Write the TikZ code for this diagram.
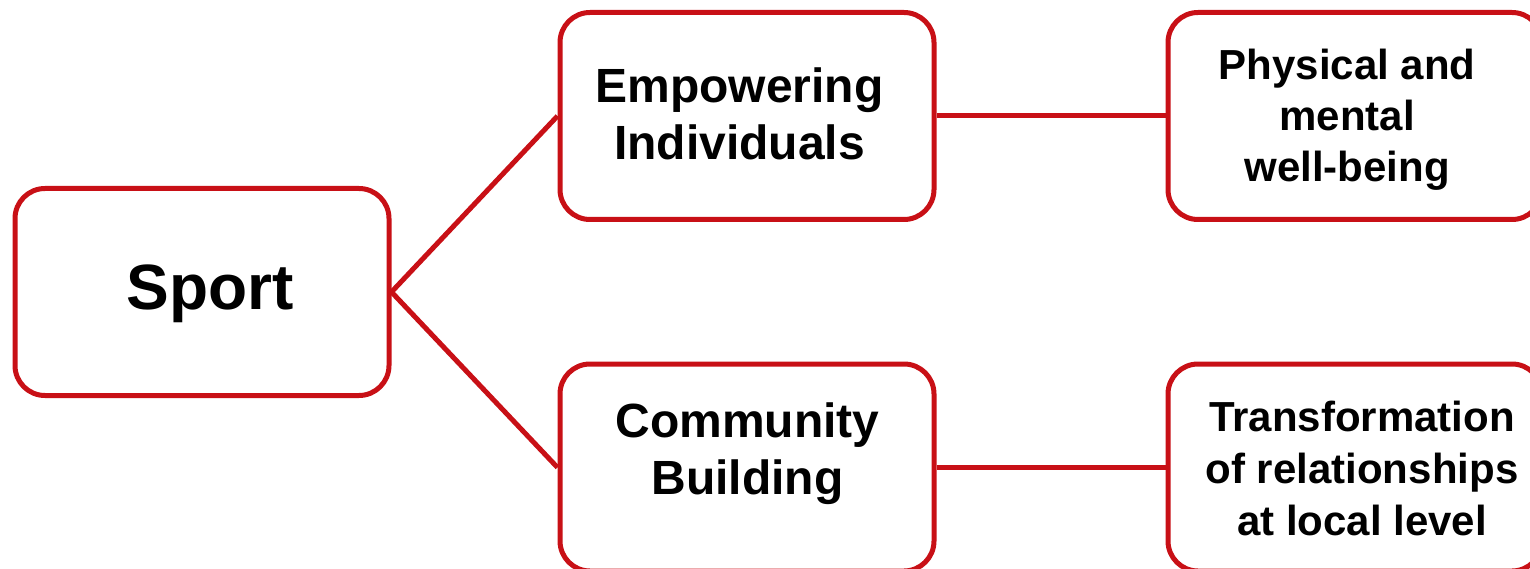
\documentclass[tikz,border=0pt]{standalone}
\usepackage{fontspec}
\setmainfont{Liberation Sans}
\definecolor{boxred}{RGB}{200,16,22}
\begin{document}
\begin{tikzpicture}[x=1pt,y=-1pt,
  box/.style={draw=boxred,line width=5pt,rounded corners=30pt,minimum width=374pt,minimum height=207pt,anchor=center,inner sep=0pt},
  link/.style={draw=boxred,line width=5pt},
  txt/.style={align=center,inner sep=0pt,font=\bfseries}]
\useasboundingbox (0,0) rectangle (1530,569);
\begin{scope}
\clip (0,0) rectangle (1530,569);
\node[box] (sport) at (202,292) {};
\node[box] (emp) at (747,116) {};
\node[box] (com) at (747,467.5) {};
\node[box] (phys) at (1355,116) {};
\node[box] (trans) at (1355,467.5) {};
\draw[link] (sport.east) -- (emp.west);
\draw[link] (sport.east) -- (com.west);
\draw[link] (emp.east) -- (phys.west);
\draw[link] (com.east) -- (trans.west);
\end{scope}
\node[txt,font=\fontsize{64}{70}\selectfont\bfseries] (tsport) at (210,294) {Sport};
\node[txt,font=\fontsize{48}{57}\selectfont\bfseries] (temp) at (739.5,114) {Empowering\\Individuals};
\node[txt,font=\fontsize{48}{57}\selectfont\bfseries] (tcom) at (747.5,454) {Community\\Building};
\node[txt,font=\fontsize{42}{51}\selectfont\bfseries] (tphys) at (1347,120) {Physical and\\mental\\well-being};
\node[txt,font=\fontsize{42}{52}\selectfont\bfseries] (ttrans) at (1362,468) {Transformation\\of relationships\\at local level};
\end{tikzpicture}
\end{document}
